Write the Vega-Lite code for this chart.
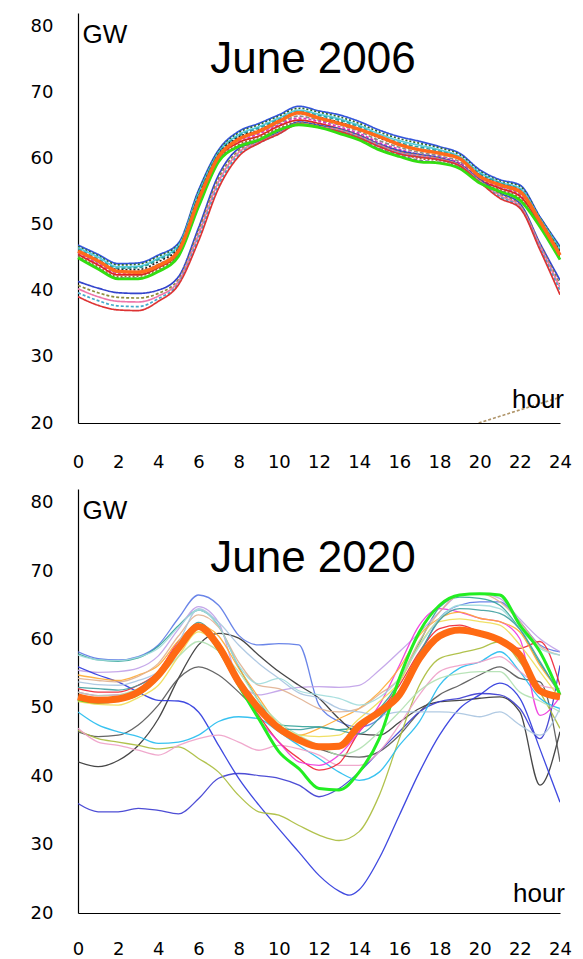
{
"$schema":"https://vega.github.io/schema/vega-lite/v6.json",
"background":"white",
"padding":{"left":30,"top":13,"right":10,"bottom":0},
"spacing":66,
"bounds":"flush",
"resolve":{"scale":{"color":"independent","strokeDash":"independent"}},
"config":{"view":{"stroke":null},"font":"Liberation Sans","axis":{"grid":false,"ticks":false,"tickSize":0,"domainColor":"#000","domainWidth":1.2,"labelColor":"#000","labelFont":"DejaVu Sans","labelFontSize":18}},
"datasets":{
"top":[
{"s":"T1","h":0,"v":46.9},{"s":"T1","h":1,"v":45.5},{"s":"T1","h":2,"v":44.1},{"s":"T1","h":3,"v":44.2},{"s":"T1","h":4,"v":45.4},{"s":"T1","h":5,"v":47.2},{"s":"T1","h":6,"v":55.2},{"s":"T1","h":7,"v":61.3},{"s":"T1","h":8,"v":64.1},{"s":"T1","h":9,"v":65.3},{"s":"T1","h":10,"v":66.6},{"s":"T1","h":11,"v":67.9},{"s":"T1","h":12,"v":67.2},{"s":"T1","h":13,"v":66.6},{"s":"T1","h":14,"v":65.6},{"s":"T1","h":15,"v":64.3},{"s":"T1","h":16,"v":63.3},{"s":"T1","h":17,"v":62.6},{"s":"T1","h":18,"v":61.8},{"s":"T1","h":19,"v":60.8},{"s":"T1","h":20,"v":58.3},{"s":"T1","h":21,"v":56.8},{"s":"T1","h":22,"v":56.0},{"s":"T1","h":23,"v":51.2},{"s":"T1","h":24,"v":46.7},
{"s":"T2","h":0,"v":46.7},{"s":"T2","h":1,"v":45.3},{"s":"T2","h":2,"v":43.9},{"s":"T2","h":3,"v":44.0},{"s":"T2","h":4,"v":45.2},{"s":"T2","h":5,"v":47.0},{"s":"T2","h":6,"v":55.0},{"s":"T2","h":7,"v":61.1},{"s":"T2","h":8,"v":63.9},{"s":"T2","h":9,"v":65.1},{"s":"T2","h":10,"v":66.4},{"s":"T2","h":11,"v":67.6},{"s":"T2","h":12,"v":67.0},{"s":"T2","h":13,"v":66.3},{"s":"T2","h":14,"v":65.3},{"s":"T2","h":15,"v":64.0},{"s":"T2","h":16,"v":63.0},{"s":"T2","h":17,"v":62.3},{"s":"T2","h":18,"v":61.6},{"s":"T2","h":19,"v":60.6},{"s":"T2","h":20,"v":58.1},{"s":"T2","h":21,"v":56.6},{"s":"T2","h":22,"v":55.8},{"s":"T2","h":23,"v":51.1},{"s":"T2","h":24,"v":46.5},
{"s":"T11","h":0,"v":46.5},{"s":"T11","h":1,"v":45.1},{"s":"T11","h":2,"v":43.6},{"s":"T11","h":3,"v":43.7},{"s":"T11","h":4,"v":44.9},{"s":"T11","h":5,"v":46.8},{"s":"T11","h":6,"v":54.7},{"s":"T11","h":7,"v":60.9},{"s":"T11","h":8,"v":63.6},{"s":"T11","h":9,"v":64.8},{"s":"T11","h":10,"v":66.1},{"s":"T11","h":11,"v":67.3},{"s":"T11","h":12,"v":66.7},{"s":"T11","h":13,"v":66.0},{"s":"T11","h":14,"v":65.0},{"s":"T11","h":15,"v":63.7},{"s":"T11","h":16,"v":62.7},{"s":"T11","h":17,"v":62.0},{"s":"T11","h":18,"v":61.3},{"s":"T11","h":19,"v":60.3},{"s":"T11","h":20,"v":57.9},{"s":"T11","h":21,"v":56.4},{"s":"T11","h":22,"v":55.5},{"s":"T11","h":23,"v":50.9},{"s":"T11","h":24,"v":46.3},
{"s":"T3","h":0,"v":46.3},{"s":"T3","h":1,"v":44.8},{"s":"T3","h":2,"v":43.4},{"s":"T3","h":3,"v":43.5},{"s":"T3","h":4,"v":44.7},{"s":"T3","h":5,"v":46.6},{"s":"T3","h":6,"v":54.5},{"s":"T3","h":7,"v":60.8},{"s":"T3","h":8,"v":63.4},{"s":"T3","h":9,"v":64.6},{"s":"T3","h":10,"v":65.9},{"s":"T3","h":11,"v":67.1},{"s":"T3","h":12,"v":66.5},{"s":"T3","h":13,"v":65.8},{"s":"T3","h":14,"v":64.8},{"s":"T3","h":15,"v":63.4},{"s":"T3","h":16,"v":62.4},{"s":"T3","h":17,"v":61.7},{"s":"T3","h":18,"v":61.1},{"s":"T3","h":19,"v":60.1},{"s":"T3","h":20,"v":57.7},{"s":"T3","h":21,"v":56.3},{"s":"T3","h":22,"v":55.3},{"s":"T3","h":23,"v":50.8},{"s":"T3","h":24,"v":46.1},
{"s":"T9","h":0,"v":46.1},{"s":"T9","h":1,"v":44.6},{"s":"T9","h":2,"v":43.2},{"s":"T9","h":3,"v":43.2},{"s":"T9","h":4,"v":44.4},{"s":"T9","h":5,"v":46.4},{"s":"T9","h":6,"v":54.2},{"s":"T9","h":7,"v":60.6},{"s":"T9","h":8,"v":63.2},{"s":"T9","h":9,"v":64.3},{"s":"T9","h":10,"v":65.7},{"s":"T9","h":11,"v":66.8},{"s":"T9","h":12,"v":66.2},{"s":"T9","h":13,"v":65.5},{"s":"T9","h":14,"v":64.5},{"s":"T9","h":15,"v":63.1},{"s":"T9","h":16,"v":62.1},{"s":"T9","h":17,"v":61.4},{"s":"T9","h":18,"v":60.8},{"s":"T9","h":19,"v":59.9},{"s":"T9","h":20,"v":57.5},{"s":"T9","h":21,"v":56.1},{"s":"T9","h":22,"v":55.1},{"s":"T9","h":23,"v":50.6},{"s":"T9","h":24,"v":45.9},
{"s":"T4","h":0,"v":45.9},{"s":"T4","h":1,"v":44.3},{"s":"T4","h":2,"v":42.8},{"s":"T4","h":3,"v":42.9},{"s":"T4","h":4,"v":44.0},{"s":"T4","h":5,"v":46.1},{"s":"T4","h":6,"v":53.8},{"s":"T4","h":7,"v":60.3},{"s":"T4","h":8,"v":62.8},{"s":"T4","h":9,"v":63.9},{"s":"T4","h":10,"v":65.3},{"s":"T4","h":11,"v":66.4},{"s":"T4","h":12,"v":65.8},{"s":"T4","h":13,"v":65.1},{"s":"T4","h":14,"v":64.1},{"s":"T4","h":15,"v":62.7},{"s":"T4","h":16,"v":61.7},{"s":"T4","h":17,"v":60.9},{"s":"T4","h":18,"v":60.4},{"s":"T4","h":19,"v":59.5},{"s":"T4","h":20,"v":57.2},{"s":"T4","h":21,"v":55.8},{"s":"T4","h":22,"v":54.7},{"s":"T4","h":23,"v":50.4},{"s":"T4","h":24,"v":45.6},
{"s":"T8","h":0,"v":45.7},{"s":"T8","h":1,"v":44.1},{"s":"T8","h":2,"v":42.6},{"s":"T8","h":3,"v":42.6},{"s":"T8","h":4,"v":43.8},{"s":"T8","h":5,"v":45.9},{"s":"T8","h":6,"v":53.6},{"s":"T8","h":7,"v":60.1},{"s":"T8","h":8,"v":62.6},{"s":"T8","h":9,"v":63.7},{"s":"T8","h":10,"v":65.1},{"s":"T8","h":11,"v":66.1},{"s":"T8","h":12,"v":65.6},{"s":"T8","h":13,"v":64.8},{"s":"T8","h":14,"v":63.8},{"s":"T8","h":15,"v":62.4},{"s":"T8","h":16,"v":61.4},{"s":"T8","h":17,"v":60.6},{"s":"T8","h":18,"v":60.2},{"s":"T8","h":19,"v":59.3},{"s":"T8","h":20,"v":57.0},{"s":"T8","h":21,"v":55.6},{"s":"T8","h":22,"v":54.5},{"s":"T8","h":23,"v":50.2},{"s":"T8","h":24,"v":45.4},
{"s":"T5","h":0,"v":45.5},{"s":"T5","h":1,"v":43.9},{"s":"T5","h":2,"v":42.4},{"s":"T5","h":3,"v":42.4},{"s":"T5","h":4,"v":43.5},{"s":"T5","h":5,"v":45.7},{"s":"T5","h":6,"v":53.3},{"s":"T5","h":7,"v":60.0},{"s":"T5","h":8,"v":62.4},{"s":"T5","h":9,"v":63.4},{"s":"T5","h":10,"v":64.9},{"s":"T5","h":11,"v":65.8},{"s":"T5","h":12,"v":65.3},{"s":"T5","h":13,"v":64.5},{"s":"T5","h":14,"v":63.5},{"s":"T5","h":15,"v":62.1},{"s":"T5","h":16,"v":61.1},{"s":"T5","h":17,"v":60.3},{"s":"T5","h":18,"v":59.9},{"s":"T5","h":19,"v":59.1},{"s":"T5","h":20,"v":56.8},{"s":"T5","h":21,"v":55.5},{"s":"T5","h":22,"v":54.3},{"s":"T5","h":23,"v":50.1},{"s":"T5","h":24,"v":45.2},
{"s":"T10","h":0,"v":45.3},{"s":"T10","h":1,"v":43.6},{"s":"T10","h":2,"v":42.1},{"s":"T10","h":3,"v":42.2},{"s":"T10","h":4,"v":43.3},{"s":"T10","h":5,"v":45.5},{"s":"T10","h":6,"v":53.1},{"s":"T10","h":7,"v":59.8},{"s":"T10","h":8,"v":62.1},{"s":"T10","h":9,"v":63.2},{"s":"T10","h":10,"v":64.6},{"s":"T10","h":11,"v":65.5},{"s":"T10","h":12,"v":65.1},{"s":"T10","h":13,"v":64.2},{"s":"T10","h":14,"v":63.2},{"s":"T10","h":15,"v":61.8},{"s":"T10","h":16,"v":60.8},{"s":"T10","h":17,"v":60.0},{"s":"T10","h":18,"v":59.7},{"s":"T10","h":19,"v":58.8},{"s":"T10","h":20,"v":56.6},{"s":"T10","h":21,"v":55.3},{"s":"T10","h":22,"v":54.0},{"s":"T10","h":23,"v":49.9},{"s":"T10","h":24,"v":45.0},
{"s":"T12","h":0,"v":45.1},{"s":"T12","h":1,"v":43.4},{"s":"T12","h":2,"v":41.9},{"s":"T12","h":3,"v":41.9},{"s":"T12","h":4,"v":43.0},{"s":"T12","h":5,"v":45.3},{"s":"T12","h":6,"v":52.8},{"s":"T12","h":7,"v":59.6},{"s":"T12","h":8,"v":61.9},{"s":"T12","h":9,"v":62.9},{"s":"T12","h":10,"v":64.4},{"s":"T12","h":11,"v":65.2},{"s":"T12","h":12,"v":64.8},{"s":"T12","h":13,"v":63.9},{"s":"T12","h":14,"v":62.9},{"s":"T12","h":15,"v":61.5},{"s":"T12","h":16,"v":60.5},{"s":"T12","h":17,"v":59.7},{"s":"T12","h":18,"v":59.4},{"s":"T12","h":19,"v":58.6},{"s":"T12","h":20,"v":56.4},{"s":"T12","h":21,"v":55.1},{"s":"T12","h":22,"v":53.8},{"s":"T12","h":23,"v":49.8},{"s":"T12","h":24,"v":44.8},
{"s":"L1","h":0,"v":41.4},{"s":"L1","h":1,"v":40.4},{"s":"L1","h":2,"v":39.7},{"s":"L1","h":3,"v":39.6},{"s":"L1","h":4,"v":40.1},{"s":"L1","h":5,"v":42.1},{"s":"L1","h":6,"v":49.5},{"s":"L1","h":7,"v":57.5},{"s":"L1","h":8,"v":61.5},{"s":"L1","h":9,"v":62.6},{"s":"L1","h":10,"v":64.0},{"s":"L1","h":11,"v":65.5},{"s":"L1","h":12,"v":65.0},{"s":"L1","h":13,"v":64.5},{"s":"L1","h":14,"v":63.5},{"s":"L1","h":15,"v":62.2},{"s":"L1","h":16,"v":61.2},{"s":"L1","h":17,"v":60.6},{"s":"L1","h":18,"v":60.1},{"s":"L1","h":19,"v":59.1},{"s":"L1","h":20,"v":56.8},{"s":"L1","h":21,"v":54.8},{"s":"L1","h":22,"v":53.2},{"s":"L1","h":23,"v":47.2},{"s":"L1","h":24,"v":41.6},
{"s":"L2","h":0,"v":40.8},{"s":"L2","h":1,"v":39.7},{"s":"L2","h":2,"v":39.0},{"s":"L2","h":3,"v":38.9},{"s":"L2","h":4,"v":39.6},{"s":"L2","h":5,"v":41.7},{"s":"L2","h":6,"v":49.0},{"s":"L2","h":7,"v":57.0},{"s":"L2","h":8,"v":61.2},{"s":"L2","h":9,"v":62.5},{"s":"L2","h":10,"v":63.9},{"s":"L2","h":11,"v":65.4},{"s":"L2","h":12,"v":64.9},{"s":"L2","h":13,"v":64.4},{"s":"L2","h":14,"v":63.4},{"s":"L2","h":15,"v":62.1},{"s":"L2","h":16,"v":61.0},{"s":"L2","h":17,"v":60.5},{"s":"L2","h":18,"v":60.0},{"s":"L2","h":19,"v":59.0},{"s":"L2","h":20,"v":56.7},{"s":"L2","h":21,"v":54.6},{"s":"L2","h":22,"v":53.0},{"s":"L2","h":23,"v":47.0},{"s":"L2","h":24,"v":41.0},
{"s":"L3","h":0,"v":40.3},{"s":"L3","h":1,"v":39.1},{"s":"L3","h":2,"v":38.4},{"s":"L3","h":3,"v":38.3},{"s":"L3","h":4,"v":39.2},{"s":"L3","h":5,"v":41.4},{"s":"L3","h":6,"v":48.5},{"s":"L3","h":7,"v":56.5},{"s":"L3","h":8,"v":60.9},{"s":"L3","h":9,"v":62.4},{"s":"L3","h":10,"v":63.8},{"s":"L3","h":11,"v":65.3},{"s":"L3","h":12,"v":64.8},{"s":"L3","h":13,"v":64.3},{"s":"L3","h":14,"v":63.3},{"s":"L3","h":15,"v":62.0},{"s":"L3","h":16,"v":60.9},{"s":"L3","h":17,"v":60.4},{"s":"L3","h":18,"v":59.9},{"s":"L3","h":19,"v":59.0},{"s":"L3","h":20,"v":56.6},{"s":"L3","h":21,"v":54.4},{"s":"L3","h":22,"v":52.8},{"s":"L3","h":23,"v":46.8},{"s":"L3","h":24,"v":40.5},
{"s":"L4","h":0,"v":39.7},{"s":"L4","h":1,"v":38.5},{"s":"L4","h":2,"v":37.7},{"s":"L4","h":3,"v":37.6},{"s":"L4","h":4,"v":38.8},{"s":"L4","h":5,"v":41.1},{"s":"L4","h":6,"v":48.0},{"s":"L4","h":7,"v":56.0},{"s":"L4","h":8,"v":60.6},{"s":"L4","h":9,"v":62.3},{"s":"L4","h":10,"v":63.7},{"s":"L4","h":11,"v":65.2},{"s":"L4","h":12,"v":64.7},{"s":"L4","h":13,"v":64.2},{"s":"L4","h":14,"v":63.2},{"s":"L4","h":15,"v":61.9},{"s":"L4","h":16,"v":60.8},{"s":"L4","h":17,"v":60.3},{"s":"L4","h":18,"v":59.8},{"s":"L4","h":19,"v":58.9},{"s":"L4","h":20,"v":56.5},{"s":"L4","h":21,"v":54.2},{"s":"L4","h":22,"v":52.6},{"s":"L4","h":23,"v":46.5},{"s":"L4","h":24,"v":40.0},
{"s":"L5","h":0,"v":39.1},{"s":"L5","h":1,"v":37.8},{"s":"L5","h":2,"v":37.1},{"s":"L5","h":3,"v":37.0},{"s":"L5","h":4,"v":38.4},{"s":"L5","h":5,"v":40.9},{"s":"L5","h":6,"v":47.5},{"s":"L5","h":7,"v":55.5},{"s":"L5","h":8,"v":60.3},{"s":"L5","h":9,"v":62.3},{"s":"L5","h":10,"v":63.7},{"s":"L5","h":11,"v":65.2},{"s":"L5","h":12,"v":64.7},{"s":"L5","h":13,"v":64.1},{"s":"L5","h":14,"v":63.1},{"s":"L5","h":15,"v":61.8},{"s":"L5","h":16,"v":60.7},{"s":"L5","h":17,"v":60.2},{"s":"L5","h":18,"v":59.8},{"s":"L5","h":19,"v":58.9},{"s":"L5","h":20,"v":56.4},{"s":"L5","h":21,"v":54.0},{"s":"L5","h":22,"v":52.5},{"s":"L5","h":23,"v":46.2},{"s":"L5","h":24,"v":39.4},
{"s":"S","h":19.95,"v":20.0},{"s":"S","h":23.9,"v":23.8},
{"s":"T7","h":0,"v":45.0},{"s":"T7","h":1,"v":43.3},{"s":"T7","h":2,"v":41.8},{"s":"T7","h":3,"v":41.8},{"s":"T7","h":4,"v":42.9},{"s":"T7","h":5,"v":45.2},{"s":"T7","h":6,"v":52.7},{"s":"T7","h":7,"v":59.5},{"s":"T7","h":8,"v":61.8},{"s":"T7","h":9,"v":62.8},{"s":"T7","h":10,"v":64.3},{"s":"T7","h":11,"v":65.1},{"s":"T7","h":12,"v":64.7},{"s":"T7","h":13,"v":63.8},{"s":"T7","h":14,"v":62.8},{"s":"T7","h":15,"v":61.3},{"s":"T7","h":16,"v":60.3},{"s":"T7","h":17,"v":59.5},{"s":"T7","h":18,"v":59.3},{"s":"T7","h":19,"v":58.5},{"s":"T7","h":20,"v":56.3},{"s":"T7","h":21,"v":55.0},{"s":"T7","h":22,"v":53.7},{"s":"T7","h":23,"v":49.7},{"s":"T7","h":24,"v":44.7},
{"s":"T6","h":0,"v":46.0},{"s":"T6","h":1,"v":44.5},{"s":"T6","h":2,"v":42.9},{"s":"T6","h":3,"v":42.8},{"s":"T6","h":4,"v":43.8},{"s":"T6","h":5,"v":46.0},{"s":"T6","h":6,"v":53.7},{"s":"T6","h":7,"v":60.3},{"s":"T6","h":8,"v":62.9},{"s":"T6","h":9,"v":64.1},{"s":"T6","h":10,"v":65.6},{"s":"T6","h":11,"v":66.9},{"s":"T6","h":12,"v":66.1},{"s":"T6","h":13,"v":65.3},{"s":"T6","h":14,"v":64.4},{"s":"T6","h":15,"v":63.3},{"s":"T6","h":16,"v":62.1},{"s":"T6","h":17,"v":61.3},{"s":"T6","h":18,"v":60.8},{"s":"T6","h":19,"v":60.0},{"s":"T6","h":20,"v":57.3},{"s":"T6","h":21,"v":56.0},{"s":"T6","h":22,"v":55.0},{"s":"T6","h":23,"v":50.5},{"s":"T6","h":24,"v":45.4}
],
"bot":[
{"s":"B1","h":0,"v":58.2},{"s":"B1","h":1,"v":57.2},{"s":"B1","h":2,"v":57.0},{"s":"B1","h":3,"v":57.5},{"s":"B1","h":4,"v":59.2},{"s":"B1","h":5,"v":63.1},{"s":"B1","h":6,"v":66.5},{"s":"B1","h":7,"v":65.0},{"s":"B1","h":8,"v":60.6},{"s":"B1","h":9,"v":59.2},{"s":"B1","h":10,"v":59.4},{"s":"B1","h":11,"v":59.2},{"s":"B1","h":12,"v":50.4},{"s":"B1","h":13,"v":48.0},{"s":"B1","h":14,"v":47.2},{"s":"B1","h":15,"v":48.4},{"s":"B1","h":16,"v":52.3},{"s":"B1","h":17,"v":57.7},{"s":"B1","h":18,"v":63.1},{"s":"B1","h":19,"v":65.0},{"s":"B1","h":20,"v":65.5},{"s":"B1","h":21,"v":65.5},{"s":"B1","h":22,"v":62.6},{"s":"B1","h":23,"v":59.2},{"s":"B1","h":24,"v":58.2},
{"s":"B2","h":0,"v":57.9},{"s":"B2","h":1,"v":57.0},{"s":"B2","h":2,"v":56.8},{"s":"B2","h":3,"v":57.3},{"s":"B2","h":4,"v":59.0},{"s":"B2","h":5,"v":62.0},{"s":"B2","h":6,"v":64.3},{"s":"B2","h":7,"v":62.0},{"s":"B2","h":8,"v":56.0},{"s":"B2","h":9,"v":51.0},{"s":"B2","h":10,"v":47.5},{"s":"B2","h":11,"v":47.3},{"s":"B2","h":12,"v":47.2},{"s":"B2","h":13,"v":46.8},{"s":"B2","h":14,"v":47.2},{"s":"B2","h":15,"v":49.8},{"s":"B2","h":16,"v":53.8},{"s":"B2","h":17,"v":59.5},{"s":"B2","h":18,"v":64.7},{"s":"B2","h":19,"v":66.2},{"s":"B2","h":20,"v":66.0},{"s":"B2","h":21,"v":65.0},{"s":"B2","h":22,"v":61.5},{"s":"B2","h":23,"v":56.5},{"s":"B2","h":24,"v":52.3},
{"s":"B3","h":0,"v":55.5},{"s":"B3","h":1,"v":55.2},{"s":"B3","h":2,"v":55.3},{"s":"B3","h":3,"v":55.8},{"s":"B3","h":4,"v":57.6},{"s":"B3","h":5,"v":61.5},{"s":"B3","h":6,"v":64.8},{"s":"B3","h":7,"v":62.5},{"s":"B3","h":8,"v":54.0},{"s":"B3","h":9,"v":51.9},{"s":"B3","h":10,"v":52.5},{"s":"B3","h":11,"v":53.0},{"s":"B3","h":12,"v":53.1},{"s":"B3","h":13,"v":53.0},{"s":"B3","h":14,"v":53.3},{"s":"B3","h":15,"v":55.5},{"s":"B3","h":16,"v":58.2},{"s":"B3","h":17,"v":61.0},{"s":"B3","h":18,"v":64.0},{"s":"B3","h":19,"v":66.5},{"s":"B3","h":20,"v":66.7},{"s":"B3","h":21,"v":66.0},{"s":"B3","h":22,"v":63.0},{"s":"B3","h":23,"v":60.1},{"s":"B3","h":24,"v":58.2},
{"s":"B4","h":0,"v":42.1},{"s":"B4","h":1,"v":41.4},{"s":"B4","h":2,"v":42.3},{"s":"B4","h":3,"v":44.5},{"s":"B4","h":4,"v":48.4},{"s":"B4","h":5,"v":54.3},{"s":"B4","h":6,"v":59.2},{"s":"B4","h":7,"v":60.9},{"s":"B4","h":8,"v":60.2},{"s":"B4","h":9,"v":57.7},{"s":"B4","h":10,"v":55.3},{"s":"B4","h":11,"v":53.3},{"s":"B4","h":12,"v":51.4},{"s":"B4","h":13,"v":48.4},{"s":"B4","h":14,"v":46.2},{"s":"B4","h":15,"v":46.0},{"s":"B4","h":16,"v":47.9},{"s":"B4","h":17,"v":49.9},{"s":"B4","h":18,"v":50.9},{"s":"B4","h":19,"v":51.1},{"s":"B4","h":20,"v":51.4},{"s":"B4","h":21,"v":51.6},{"s":"B4","h":22,"v":49.4},{"s":"B4","h":23,"v":38.7},{"s":"B4","h":24,"v":46.5},
{"s":"B5","h":0,"v":46.5},{"s":"B5","h":1,"v":45.8},{"s":"B5","h":2,"v":46.0},{"s":"B5","h":3,"v":47.5},{"s":"B5","h":4,"v":50.4},{"s":"B5","h":5,"v":54.3},{"s":"B5","h":6,"v":56.0},{"s":"B5","h":7,"v":54.8},{"s":"B5","h":8,"v":52.3},{"s":"B5","h":9,"v":49.4},{"s":"B5","h":10,"v":47.0},{"s":"B5","h":11,"v":45.0},{"s":"B5","h":12,"v":44.0},{"s":"B5","h":13,"v":43.1},{"s":"B5","h":14,"v":42.8},{"s":"B5","h":15,"v":43.6},{"s":"B5","h":16,"v":46.0},{"s":"B5","h":17,"v":49.4},{"s":"B5","h":18,"v":51.9},{"s":"B5","h":19,"v":53.3},{"s":"B5","h":20,"v":54.8},{"s":"B5","h":21,"v":56.0},{"s":"B5","h":22,"v":54.3},{"s":"B5","h":23,"v":53.8},{"s":"B5","h":24,"v":42.1},
{"s":"B6","h":0,"v":56.0},{"s":"B6","h":1,"v":54.8},{"s":"B6","h":2,"v":53.8},{"s":"B6","h":3,"v":52.3},{"s":"B6","h":4,"v":51.1},{"s":"B6","h":5,"v":51.0},{"s":"B6","h":6,"v":49.4},{"s":"B6","h":7,"v":44.5},{"s":"B6","h":8,"v":39.7},{"s":"B6","h":9,"v":35.8},{"s":"B6","h":10,"v":32.3},{"s":"B6","h":11,"v":28.9},{"s":"B6","h":12,"v":25.5},{"s":"B6","h":13,"v":23.2},{"s":"B6","h":13.5,"v":22.6},{"s":"B6","h":14,"v":23.4},{"s":"B6","h":15,"v":28.0},{"s":"B6","h":16,"v":34.3},{"s":"B6","h":17,"v":40.6},{"s":"B6","h":18,"v":46.0},{"s":"B6","h":19,"v":49.9},{"s":"B6","h":20,"v":51.9},{"s":"B6","h":21,"v":53.6},{"s":"B6","h":22,"v":51.4},{"s":"B6","h":23,"v":44.0},{"s":"B6","h":24,"v":36.2},
{"s":"B7","h":0,"v":36.0},{"s":"B7","h":1,"v":34.8},{"s":"B7","h":2,"v":34.8},{"s":"B7","h":3,"v":35.3},{"s":"B7","h":4,"v":35.0},{"s":"B7","h":5,"v":34.5},{"s":"B7","h":6,"v":36.7},{"s":"B7","h":7,"v":39.7},{"s":"B7","h":8,"v":40.4},{"s":"B7","h":9,"v":40.1},{"s":"B7","h":10,"v":39.7},{"s":"B7","h":11,"v":38.7},{"s":"B7","h":12,"v":37.0},{"s":"B7","h":13,"v":38.2},{"s":"B7","h":14,"v":40.6},{"s":"B7","h":15,"v":43.6},{"s":"B7","h":16,"v":46.5},{"s":"B7","h":17,"v":49.4},{"s":"B7","h":18,"v":50.9},{"s":"B7","h":19,"v":51.4},{"s":"B7","h":20,"v":52.1},{"s":"B7","h":21,"v":51.9},{"s":"B7","h":22,"v":49.9},{"s":"B7","h":23,"v":45.5},{"s":"B7","h":24,"v":56.2},
{"s":"B8","h":0,"v":46.7},{"s":"B8","h":1,"v":45.5},{"s":"B8","h":2,"v":45.0},{"s":"B8","h":3,"v":44.5},{"s":"B8","h":4,"v":44.0},{"s":"B8","h":5,"v":44.3},{"s":"B8","h":6,"v":42.6},{"s":"B8","h":7,"v":40.6},{"s":"B8","h":8,"v":37.2},{"s":"B8","h":9,"v":34.8},{"s":"B8","h":10,"v":34.3},{"s":"B8","h":11,"v":32.8},{"s":"B8","h":12,"v":31.4},{"s":"B8","h":13,"v":30.6},{"s":"B8","h":14,"v":31.9},{"s":"B8","h":15,"v":37.2},{"s":"B8","h":16,"v":45.5},{"s":"B8","h":17,"v":53.3},{"s":"B8","h":18,"v":57.2},{"s":"B8","h":19,"v":58.0},{"s":"B8","h":20,"v":58.7},{"s":"B8","h":21,"v":59.7},{"s":"B8","h":22,"v":56.7},{"s":"B8","h":23,"v":52.3},{"s":"B8","h":24,"v":47.0},
{"s":"B9","h":0,"v":49.4},{"s":"B9","h":1,"v":47.5},{"s":"B9","h":2,"v":46.5},{"s":"B9","h":3,"v":45.8},{"s":"B9","h":4,"v":44.8},{"s":"B9","h":5,"v":45.0},{"s":"B9","h":6,"v":46.0},{"s":"B9","h":7,"v":48.0},{"s":"B9","h":8,"v":48.7},{"s":"B9","h":9,"v":48.4},{"s":"B9","h":10,"v":46.5},{"s":"B9","h":11,"v":44.5},{"s":"B9","h":12,"v":42.6},{"s":"B9","h":13,"v":40.6},{"s":"B9","h":14,"v":39.4},{"s":"B9","h":15,"v":40.6},{"s":"B9","h":16,"v":44.5},{"s":"B9","h":17,"v":48.0},{"s":"B9","h":18,"v":53.3},{"s":"B9","h":19,"v":55.8},{"s":"B9","h":20,"v":56.7},{"s":"B9","h":21,"v":58.2},{"s":"B9","h":22,"v":55.3},{"s":"B9","h":23,"v":51.4},{"s":"B9","h":24,"v":49.9},
{"s":"B10","h":0,"v":47.0},{"s":"B10","h":1,"v":45.0},{"s":"B10","h":2,"v":44.5},{"s":"B10","h":3,"v":43.8},{"s":"B10","h":4,"v":43.1},{"s":"B10","h":5,"v":44.5},{"s":"B10","h":6,"v":45.5},{"s":"B10","h":7,"v":46.0},{"s":"B10","h":8,"v":45.0},{"s":"B10","h":9,"v":43.8},{"s":"B10","h":10,"v":44.5},{"s":"B10","h":11,"v":44.0},{"s":"B10","h":12,"v":43.1},{"s":"B10","h":13,"v":41.6},{"s":"B10","h":14,"v":41.6},{"s":"B10","h":15,"v":43.6},{"s":"B10","h":16,"v":47.5},{"s":"B10","h":17,"v":51.9},{"s":"B10","h":18,"v":55.3},{"s":"B10","h":19,"v":56.2},{"s":"B10","h":20,"v":56.7},{"s":"B10","h":21,"v":57.5},{"s":"B10","h":22,"v":55.3},{"s":"B10","h":23,"v":53.3},{"s":"B10","h":24,"v":52.8},
{"s":"B11","h":0,"v":52.8},{"s":"B11","h":1,"v":52.3},{"s":"B11","h":2,"v":52.3},{"s":"B11","h":3,"v":53.3},{"s":"B11","h":4,"v":55.3},{"s":"B11","h":5,"v":59.7},{"s":"B11","h":6,"v":62.1},{"s":"B11","h":7,"v":59.2},{"s":"B11","h":8,"v":53.3},{"s":"B11","h":9,"v":48.9},{"s":"B11","h":10,"v":45.0},{"s":"B11","h":11,"v":42.6},{"s":"B11","h":12,"v":40.9},{"s":"B11","h":13,"v":41.9},{"s":"B11","h":14,"v":46.5},{"s":"B11","h":15,"v":49.4},{"s":"B11","h":16,"v":53.3},{"s":"B11","h":17,"v":58.2},{"s":"B11","h":18,"v":61.6},{"s":"B11","h":19,"v":62.1},{"s":"B11","h":20,"v":61.1},{"s":"B11","h":21,"v":60.1},{"s":"B11","h":22,"v":58.7},{"s":"B11","h":23,"v":59.7},{"s":"B11","h":24,"v":53.3},
{"s":"B12","h":0,"v":52.3},{"s":"B12","h":1,"v":51.8},{"s":"B12","h":2,"v":51.9},{"s":"B12","h":3,"v":52.8},{"s":"B12","h":4,"v":55.3},{"s":"B12","h":5,"v":59.5},{"s":"B12","h":6,"v":61.6},{"s":"B12","h":7,"v":58.7},{"s":"B12","h":8,"v":53.3},{"s":"B12","h":9,"v":48.4},{"s":"B12","h":10,"v":45.0},{"s":"B12","h":11,"v":42.1},{"s":"B12","h":12,"v":41.6},{"s":"B12","h":13,"v":43.1},{"s":"B12","h":14,"v":46.5},{"s":"B12","h":15,"v":50.4},{"s":"B12","h":16,"v":56.2},{"s":"B12","h":17,"v":62.1},{"s":"B12","h":18,"v":64.5},{"s":"B12","h":19,"v":64.0},{"s":"B12","h":20,"v":63.1},{"s":"B12","h":21,"v":62.6},{"s":"B12","h":22,"v":60.1},{"s":"B12","h":23,"v":48.9},{"s":"B12","h":24,"v":51.6},
{"s":"B13","h":0,"v":54.8},{"s":"B13","h":1,"v":54.3},{"s":"B13","h":2,"v":54.0},{"s":"B13","h":3,"v":54.8},{"s":"B13","h":4,"v":56.2},{"s":"B13","h":5,"v":59.8},{"s":"B13","h":6,"v":62.1},{"s":"B13","h":7,"v":60.5},{"s":"B13","h":8,"v":55.8},{"s":"B13","h":9,"v":51.5},{"s":"B13","h":10,"v":47.5},{"s":"B13","h":11,"v":46.0},{"s":"B13","h":12,"v":47.0},{"s":"B13","h":13,"v":48.4},{"s":"B13","h":14,"v":49.9},{"s":"B13","h":15,"v":52.3},{"s":"B13","h":16,"v":55.8},{"s":"B13","h":17,"v":60.6},{"s":"B13","h":18,"v":63.1},{"s":"B13","h":19,"v":64.0},{"s":"B13","h":20,"v":63.1},{"s":"B13","h":21,"v":62.6},{"s":"B13","h":22,"v":61.1},{"s":"B13","h":23,"v":56.2},{"s":"B13","h":24,"v":52.3},
{"s":"B14","h":0,"v":50.9},{"s":"B14","h":1,"v":50.5},{"s":"B14","h":2,"v":50.4},{"s":"B14","h":3,"v":51.5},{"s":"B14","h":4,"v":53.3},{"s":"B14","h":5,"v":57.5},{"s":"B14","h":6,"v":61.1},{"s":"B14","h":7,"v":58.8},{"s":"B14","h":8,"v":54.3},{"s":"B14","h":9,"v":49.9},{"s":"B14","h":10,"v":47.5},{"s":"B14","h":11,"v":46.0},{"s":"B14","h":12,"v":45.8},{"s":"B14","h":13,"v":46.0},{"s":"B14","h":14,"v":48.4},{"s":"B14","h":15,"v":50.9},{"s":"B14","h":16,"v":53.8},{"s":"B14","h":17,"v":59.2},{"s":"B14","h":18,"v":62.6},{"s":"B14","h":19,"v":63.0},{"s":"B14","h":20,"v":62.6},{"s":"B14","h":21,"v":62.1},{"s":"B14","h":22,"v":59.2},{"s":"B14","h":23,"v":55.3},{"s":"B14","h":24,"v":51.4},
{"s":"B15","h":0,"v":54.3},{"s":"B15","h":1,"v":54.0},{"s":"B15","h":2,"v":53.8},{"s":"B15","h":3,"v":54.6},{"s":"B15","h":4,"v":56.5},{"s":"B15","h":5,"v":60.5},{"s":"B15","h":6,"v":63.6},{"s":"B15","h":7,"v":61.8},{"s":"B15","h":8,"v":56.7},{"s":"B15","h":9,"v":53.3},{"s":"B15","h":10,"v":52.8},{"s":"B15","h":11,"v":51.4},{"s":"B15","h":12,"v":49.9},{"s":"B15","h":13,"v":49.4},{"s":"B15","h":14,"v":49.9},{"s":"B15","h":15,"v":52.0},{"s":"B15","h":16,"v":54.3},{"s":"B15","h":17,"v":59.8},{"s":"B15","h":18,"v":64.0},{"s":"B15","h":19,"v":66.5},{"s":"B15","h":20,"v":66.7},{"s":"B15","h":21,"v":65.5},{"s":"B15","h":22,"v":62.6},{"s":"B15","h":23,"v":59.0},{"s":"B15","h":24,"v":57.7},
{"s":"B16","h":0,"v":53.8},{"s":"B16","h":1,"v":53.4},{"s":"B16","h":2,"v":53.3},{"s":"B16","h":3,"v":54.0},{"s":"B16","h":4,"v":55.3},{"s":"B16","h":5,"v":59.5},{"s":"B16","h":6,"v":64.5},{"s":"B16","h":7,"v":62.5},{"s":"B16","h":8,"v":59.2},{"s":"B16","h":9,"v":56.5},{"s":"B16","h":10,"v":54.3},{"s":"B16","h":11,"v":52.2},{"s":"B16","h":12,"v":51.4},{"s":"B16","h":13,"v":49.9},{"s":"B16","h":14,"v":49.4},{"s":"B16","h":15,"v":48.9},{"s":"B16","h":16,"v":49.4},{"s":"B16","h":17,"v":49.4},{"s":"B16","h":18,"v":49.4},{"s":"B16","h":19,"v":49.2},{"s":"B16","h":20,"v":48.7},{"s":"B16","h":21,"v":49.4},{"s":"B16","h":22,"v":47.5},{"s":"B16","h":23,"v":46.0},{"s":"B16","h":24,"v":49.9},
{"s":"B17","h":0,"v":52.3},{"s":"B17","h":1,"v":51.8},{"s":"B17","h":2,"v":51.9},{"s":"B17","h":3,"v":52.8},{"s":"B17","h":4,"v":54.5},{"s":"B17","h":5,"v":57.5},{"s":"B17","h":6,"v":59.7},{"s":"B17","h":7,"v":58.3},{"s":"B17","h":8,"v":55.3},{"s":"B17","h":9,"v":51.0},{"s":"B17","h":10,"v":47.9},{"s":"B17","h":11,"v":46.0},{"s":"B17","h":12,"v":44.5},{"s":"B17","h":13,"v":43.1},{"s":"B17","h":14,"v":44.0},{"s":"B17","h":15,"v":46.5},{"s":"B17","h":16,"v":49.4},{"s":"B17","h":17,"v":52.5},{"s":"B17","h":18,"v":54.3},{"s":"B17","h":19,"v":55.0},{"s":"B17","h":20,"v":55.3},{"s":"B17","h":21,"v":55.3},{"s":"B17","h":22,"v":52.3},{"s":"B17","h":23,"v":51.0},{"s":"B17","h":24,"v":49.4},
{"s":"B18","h":0,"v":57.7},{"s":"B18","h":1,"v":57.0},{"s":"B18","h":2,"v":56.9},{"s":"B18","h":3,"v":57.4},{"s":"B18","h":4,"v":58.7},{"s":"B18","h":5,"v":61.8},{"s":"B18","h":6,"v":64.3},{"s":"B18","h":7,"v":62.0},{"s":"B18","h":8,"v":56.2},{"s":"B18","h":9,"v":53.5},{"s":"B18","h":10,"v":54.3},{"s":"B18","h":11,"v":52.5},{"s":"B18","h":12,"v":51.9},{"s":"B18","h":13,"v":51.4},{"s":"B18","h":14,"v":50.4},{"s":"B18","h":15,"v":51.5},{"s":"B18","h":16,"v":54.3},{"s":"B18","h":17,"v":59.0},{"s":"B18","h":18,"v":63.1},{"s":"B18","h":19,"v":65.0},{"s":"B18","h":20,"v":65.0},{"s":"B18","h":21,"v":64.5},{"s":"B18","h":22,"v":61.5},{"s":"B18","h":23,"v":58.7},{"s":"B18","h":24,"v":57.7},
{"s":"B19","h":0,"v":53.0},{"s":"B19","h":1,"v":52.8},{"s":"B19","h":2,"v":52.6},{"s":"B19","h":3,"v":53.3},{"s":"B19","h":4,"v":55.0},{"s":"B19","h":5,"v":58.8},{"s":"B19","h":6,"v":62.5},{"s":"B19","h":7,"v":59.5},{"s":"B19","h":8,"v":54.0},{"s":"B19","h":9,"v":49.5},{"s":"B19","h":10,"v":47.0},{"s":"B19","h":11,"v":46.8},{"s":"B19","h":12,"v":47.2},{"s":"B19","h":13,"v":46.7},{"s":"B19","h":14,"v":46.2},{"s":"B19","h":15,"v":48.5},{"s":"B19","h":16,"v":52.5},{"s":"B19","h":17,"v":58.0},{"s":"B19","h":18,"v":62.8},{"s":"B19","h":19,"v":64.5},{"s":"B19","h":20,"v":64.3},{"s":"B19","h":21,"v":63.8},{"s":"B19","h":22,"v":61.5},{"s":"B19","h":23,"v":56.8},{"s":"B19","h":24,"v":51.9},
{"s":"G","h":0,"v":51.2},{"s":"G","h":1,"v":50.8},{"s":"G","h":2,"v":51.1},{"s":"G","h":3,"v":52.0},{"s":"G","h":4,"v":54.5},{"s":"G","h":5,"v":58.5},{"s":"G","h":6,"v":61.8},{"s":"G","h":7,"v":58.5},{"s":"G","h":8,"v":53.3},{"s":"G","h":9,"v":48.4},{"s":"G","h":10,"v":43.6},{"s":"G","h":11,"v":41.1},{"s":"G","h":12,"v":38.2},{"s":"G","h":13,"v":38.0},{"s":"G","h":14,"v":40.6},{"s":"G","h":15,"v":45.5},{"s":"G","h":16,"v":54.3},{"s":"G","h":17,"v":61.1},{"s":"G","h":18,"v":65.0},{"s":"G","h":19,"v":66.5},{"s":"G","h":20,"v":66.7},{"s":"G","h":21,"v":66.5},{"s":"G","h":22,"v":62.1},{"s":"G","h":23,"v":58.2},{"s":"G","h":24,"v":51.9},
{"s":"O","h":0,"v":51.6},{"s":"O","h":1,"v":51.1},{"s":"O","h":2,"v":51.3},{"s":"O","h":3,"v":52.3},{"s":"O","h":4,"v":54.8},{"s":"O","h":5,"v":58.7},{"s":"O","h":6,"v":61.9},{"s":"O","h":7,"v":59.0},{"s":"O","h":8,"v":53.8},{"s":"O","h":9,"v":49.9},{"s":"O","h":10,"v":47.0},{"s":"O","h":11,"v":45.3},{"s":"O","h":12,"v":44.3},{"s":"O","h":13,"v":44.4},{"s":"O","h":14,"v":47.4},{"s":"O","h":15,"v":49.4},{"s":"O","h":16,"v":51.9},{"s":"O","h":17,"v":57.2},{"s":"O","h":18,"v":60.5},{"s":"O","h":19,"v":61.4},{"s":"O","h":20,"v":60.9},{"s":"O","h":21,"v":59.9},{"s":"O","h":22,"v":57.7},{"s":"O","h":23,"v":52.5},{"s":"O","h":24,"v":51.6}
]
},
"vconcat":[
{
"width":482,"height":410,
"layer":[
{"data":{"name":"top"},"transform":[{"filter":"datum.s != 'T6' && datum.s != 'T7'"}],
"mark":{"type":"line","interpolate":"monotone","strokeWidth":1.7,"clip":true},
"encoding":{
"x":{"field":"h","type":"quantitative","title":null,"scale":{"domain":[0,24],"nice":false,"zero":false},"axis":{"values":[0,2,4,6,8,10,12,14,16,18,20,22,24],"title":null,"labelPadding":30,"labelFlush":false,"labelOverlap":false}},
"y":{"field":"v","type":"quantitative","title":null,"scale":{"domain":[20,82],"nice":false,"zero":false},"axis":{"values":[20,30,40,50,60,70,80],"title":null,"labelPadding":25}},
"color":{"field":"s","type":"nominal","legend":null,"scale":{"domain":["T1","T2","T11","T3","T9","T4","T8","T5","T10","T12","L1","L2","L3","L4","L5","S"],"range":["#3355dd","#2e6b2e","#55ccdd","#2aa3a3","#222222","#8a8a8a","#dd33bb","#dd2222","#a0662e","#8855aa","#3344cc","#8c8c3c","#ee77aa","#44aacc","#dd3333","#b0956a"]}},
"strokeDash":{"field":"s","type":"nominal","legend":null,"scale":{"domain":["T1","T2","T11","T3","T9","T4","T8","T5","T10","T12","L1","L2","L3","L4","L5","S"],"range":[[1,0],[2,2],[1,0],[4,2],[2,2],[4,2],[3,2],[1,0],[2,2],[4,2],[1,0],[3,2],[1,0],[3,2],[1,0],[3,2]]}}
}},
{"data":{"name":"top"},"transform":[{"filter":"datum.s == 'T7'"}],"mark":{"type":"line","interpolate":"monotone","strokeWidth":2.8,"color":"#33dd11"},
"encoding":{"x":{"field":"h","type":"quantitative","title":null},"y":{"field":"v","type":"quantitative","title":null}}},
{"data":{"name":"top"},"transform":[{"filter":"datum.s == 'T6'"}],"mark":{"type":"line","interpolate":"monotone","strokeWidth":3.5,"color":"#ff6a1a"},
"encoding":{"x":{"field":"h","type":"quantitative","title":null},"y":{"field":"v","type":"quantitative","title":null}}},
{"data":{"values":[{"t":"GW"}]},"mark":{"type":"text","align":"left","baseline":"alphabetic","fontSize":26,"color":"#000"},"encoding":{"x":{"datum":0.22},"y":{"datum":77.5},"text":{"field":"t"}}},
{"data":{"values":[{"t":"June 2006"}]},"mark":{"type":"text","align":"center","baseline":"alphabetic","fontSize":44,"color":"#000"},"encoding":{"x":{"datum":11.7},"y":{"datum":72.9},"text":{"field":"t"}}},
{"data":{"values":[{"t":"hour"}]},"mark":{"type":"text","align":"right","baseline":"alphabetic","fontSize":26,"color":"#000"},"encoding":{"x":{"datum":24.2},"y":{"datum":22.27},"text":{"field":"t"}}}
]
},
{
"width":482,"height":424,
"layer":[
{"data":{"name":"bot"},"transform":[{"filter":"datum.s != 'O' && datum.s != 'G'"}],
"mark":{"type":"line","interpolate":"monotone","strokeWidth":1.3,"clip":true,"opacity":0.9},
"encoding":{
"x":{"field":"h","type":"quantitative","title":null,"scale":{"domain":[0,24],"nice":false,"zero":false},"axis":{"values":[0,2,4,6,8,10,12,14,16,18,20,22,24],"title":null,"labelPadding":27,"labelFlush":false,"labelOverlap":false}},
"y":{"field":"v","type":"quantitative","title":null,"scale":{"domain":[20,82],"nice":false,"zero":false},"axis":{"values":[20,30,40,50,60,70,80],"title":null,"labelPadding":25}},
"color":{"field":"s","type":"nominal","legend":null,"scale":{"domain":["B1","B2","B3","B4","B5","B6","B7","B8","B9","B10","B11","B12","B13","B14","B15","B16","B17","B18","B19"],"range":["#5a78e6","#33a399","#c0a0e8","#333333","#555555","#2a35dd","#3a3ad0","#a8bb3a","#22bbee","#eea0c8","#ee2233","#ee33dd","#ffaa33","#eedd55","#e0b090","#a8c4e0","#b0e0b0","#a0dcdc","#3f9f9f"]}}
}},
{"data":{"name":"bot"},"transform":[{"filter":"datum.s == 'G'"}],"mark":{"type":"line","interpolate":"monotone","strokeWidth":3,"color":"#22ee22"},
"encoding":{"x":{"field":"h","type":"quantitative","title":null},"y":{"field":"v","type":"quantitative","title":null}}},
{"data":{"name":"bot"},"transform":[{"filter":"datum.s == 'O'"}],"mark":{"type":"line","interpolate":"monotone","strokeWidth":7,"color":"#ff6a13"},
"encoding":{"x":{"field":"h","type":"quantitative","title":null},"y":{"field":"v","type":"quantitative","title":null}}},
{"data":{"values":[{"t":"GW"}]},"mark":{"type":"text","align":"left","baseline":"alphabetic","fontSize":26,"color":"#000"},"encoding":{"x":{"datum":0.22},"y":{"datum":77.6},"text":{"field":"t"}}},
{"data":{"values":[{"t":"June 2020"}]},"mark":{"type":"text","align":"center","baseline":"alphabetic","fontSize":44,"color":"#000"},"encoding":{"x":{"datum":11.7},"y":{"datum":69.85},"text":{"field":"t"}}},
{"data":{"values":[{"t":"hour"}]},"mark":{"type":"text","align":"right","baseline":"alphabetic","fontSize":26,"color":"#000"},"encoding":{"x":{"datum":24.25},"y":{"datum":21.66},"text":{"field":"t"}}}
]
}
]
}
